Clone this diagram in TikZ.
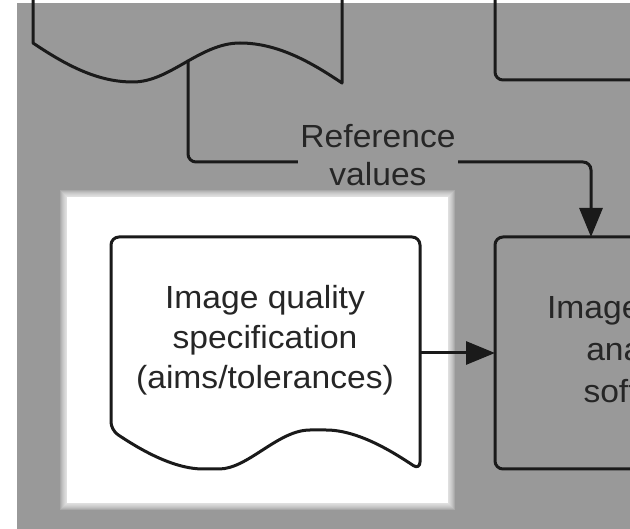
\documentclass[tikz,border=0pt]{standalone}
\usepackage{fontspec}
\setmainfont{Liberation Sans}[FakeStretch=1.05]
\usetikzlibrary{arrows.meta,calc}
\definecolor{bg}{HTML}{999999}
\definecolor{ink}{HTML}{1A1A1A}
\definecolor{txt}{HTML}{262626}
\begin{document}
\begin{tikzpicture}[x=1pt,y=-1pt,
  line/.style={draw=ink,line width=3pt,line join=round},
  conn/.style={draw=ink,line width=3pt,rounded corners=8pt,-{Triangle[length=29pt,width=23pt]}},
  lbl/.style={text=txt,align=center,inner sep=2pt}]
\useasboundingbox (0,0) rectangle (630,529);
\begin{scope}
\clip (0,0) rectangle (630,529);
\fill[bg] (17,3) rectangle (630,529);
% white glow panel
\foreach \i in {1,...,7} \fill[white,opacity=0.16] ({67-\i},{197-\i}) rectangle ({448+\i},{503+\i});
\fill[white] (67,197) rectangle (448,503);
% top-left document (cut off)
\draw[line] (33,-20) -- (33,43) .. controls (70,68) and (100,82) .. (133,82)
  .. controls (170,82) and (200,43) .. (240,43)
  .. controls (280,43) and (315,65) .. (342,83) -- (342,-20);
\coordinate (refsrc) at (188,60);
% top-right box (cut off)
\draw[line,rounded corners=8pt] (495,-20) -- (495,80) -- (700,80);
% bottom document: image quality specification
\begin{scope}[shift={(78,387)}]
\draw[line,fill=white,rounded corners=8pt] (342,83)
  .. controls (315,65) and (280,43) .. (240,43)
  .. controls (200,43) and (170,82) .. (133,82)
  .. controls (100,82) and (70,68) .. (33,43)
  -- (33,-150) -- (342,-150) -- cycle;
\end{scope}
\node[lbl,font=\fontsize{32}{40}\selectfont] (spec) at (265,340) {Image quality\\specification\\(aims/tolerances)};
\coordinate (specR) at (419,353);
% right box: image quality analysis software (cut off)
\draw[line,fill=bg,rounded corners=8pt] (495,237) rectangle (800,469);
\node[lbl,font=\fontsize{32}{42}\selectfont] (ana) at (647,349) {Image quality\\analysis\\software};
\coordinate (anaL) at (495,353);
\coordinate (anaT) at (591,237);
% connectors
\draw[conn] (refsrc) |- ($(anaT)+(0,-75)$) -- (anaT);
\node[lbl,fill=bg,font=\fontsize{32}{38}\selectfont] (ref) at (378,155) {Reference\\values};
\draw[conn] (specR) -- (anaL);
\end{scope}
\end{tikzpicture}
\end{document}
